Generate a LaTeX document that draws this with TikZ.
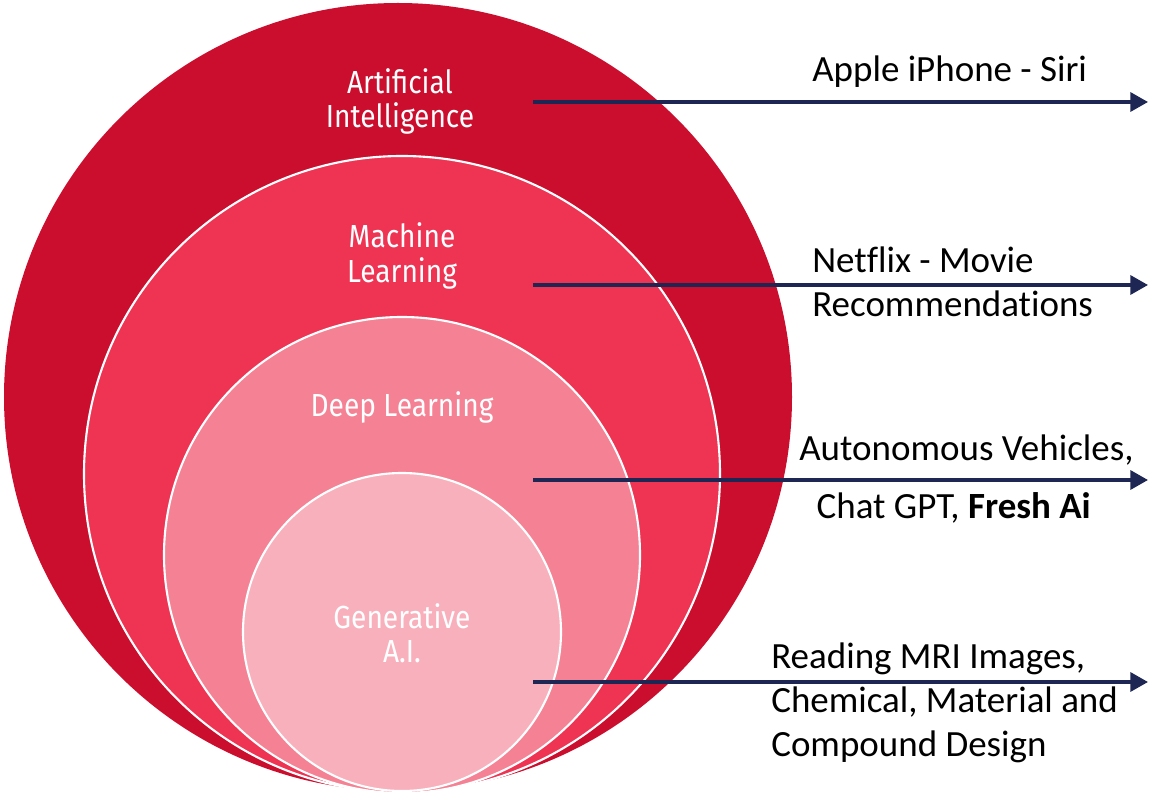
\documentclass[tikz,border=0pt]{standalone}
\usepackage{fontspec}
\setmainfont{Carlito}[Ligatures=CommonOff]
\newfontfamily\ringfont[FakeStretch=0.88]{Fira Sans}
\usetikzlibrary{arrows.meta, positioning}

\definecolor{aired}{RGB}{203,14,46}
\definecolor{mlred}{RGB}{239,51,83}
\definecolor{dlpink}{RGB}{245,130,148}
\definecolor{genpink}{RGB}{248,177,188}
\definecolor{linknavy}{RGB}{30,38,84}

\begin{document}
\begin{tikzpicture}[
    x=0.025cm, y=-0.025cm,
    ring/.style={draw=white, line width=1.5pt},
    ringlbl/.style={text=white, align=center, inner sep=0pt,
                    font=\ringfont\fontsize{22.7}{24.5}\selectfont},
    usecase/.style={align=left, inner sep=0pt, anchor=base west,
                    font=\fontsize{26.3}{31.3}\selectfont},
    link/.style={draw=linknavy, line width=2.3pt,
                 -{Triangle[length=12.5pt, width=13.5pt]}},
  ]
  \useasboundingbox (0,0) rectangle (1152,793);

  % Nested fields, all touching at the bottom
  \fill[aired] (398,397) circle[radius=394];
  \filldraw[ring, fill=mlred] (402,474) circle[radius=318];
  \filldraw[ring, fill=dlpink] (402,555) circle[radius=238];
  \filldraw[ring, fill=genpink] (402,632) circle[radius=159];

  \node[ringlbl] (ai) at (400,101.5) {Artificial\\Intelligence};
  \node[ringlbl] (ml) at (402,256) {Machine\\Learning};
  \node[ringlbl, anchor=base] (dl) at (402,416.7) {Deep Learning};
  \node[ringlbl] (gen) at (402,633) {Generative\\A.I.};

  % Examples on the right (base = last line)
  \node[usecase] (siri) at (812,82) {Apple iPhone - Siri};
  \node[usecase] (netflix) at (812,316.7) {Netflix - Movie\\Recommendations};
  \node[usecase, align=center] (cars) at (799,519)
    {Autonomous Vehicles,\\[10pt]Chat GPT, \textbf{Fresh Ai}\hspace*{18pt}};
  \node[usecase] (mri) at (771,756.7)
    {Reading MRI Images,\\Chemical, Material and\\Compound Design};

  % Arrows
  \foreach \name/\y in {siri/102, netflix/285, cars/480, mri/682} {
    \coordinate (\name-from) at (533,\y);
    \coordinate (\name-to) at (1148,\y);
    \draw[link] (\name-from) -- (\name-to);
  }
\end{tikzpicture}
\end{document}
